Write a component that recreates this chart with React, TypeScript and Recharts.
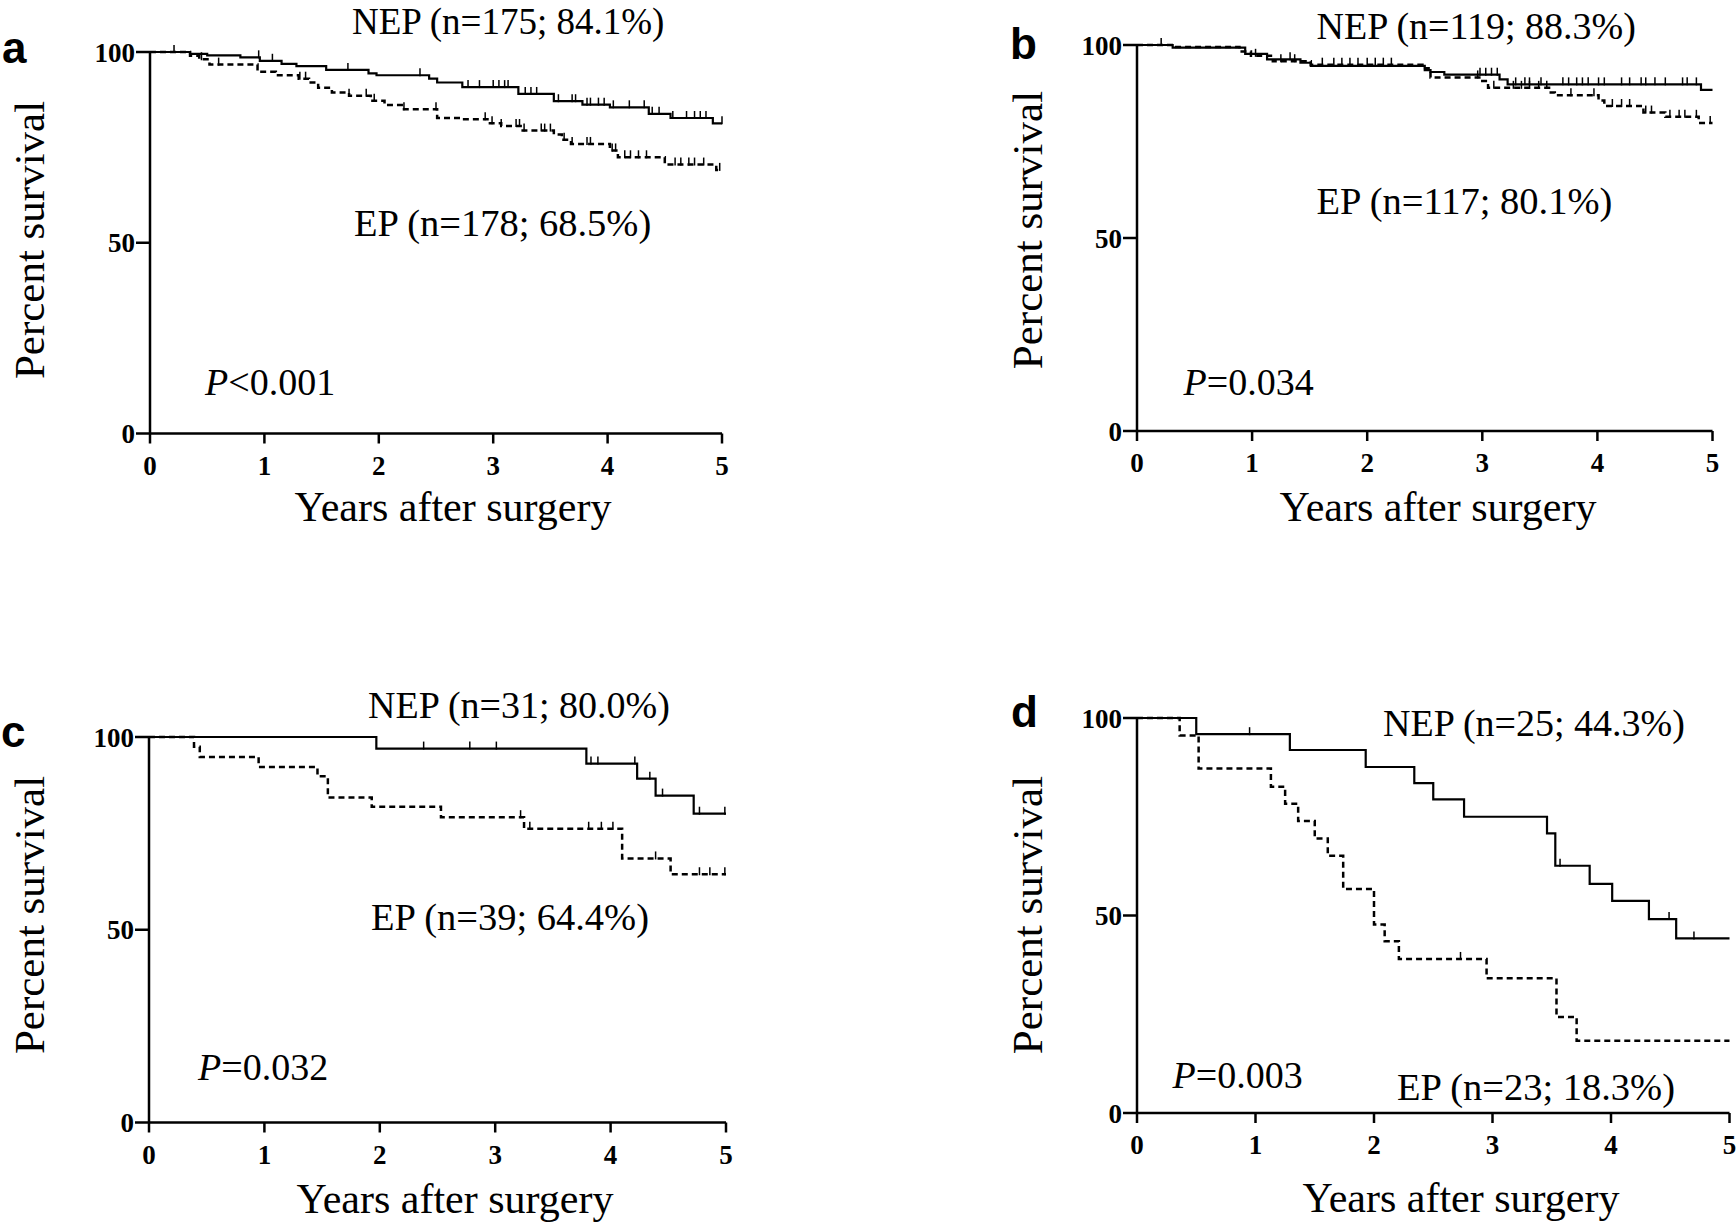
import { LineChart, Line, XAxis, YAxis } from 'recharts'

type Step = [number, number]

const years = [0, 1, 2, 3, 4, 5]
const pctTicks = [0, 50, 100]

// panel a: all patients
const aNep: Step[] = [[0, 100], [0.35, 99.5], [0.5, 99.1], [0.79, 98.6], [0.96, 97.7], [1.15, 96.9], [1.28, 96.3], [1.54, 95.3], [1.91, 94.4], [1.98, 93.9], [2.44, 93], [2.51, 92], [2.73, 90.8], [3.22, 89], [3.53, 87.1], [3.78, 86.2], [4.02, 85.5], [4.36, 83.8], [4.55, 82.7], [4.92, 81.3], [5, 81.3]]
const aEp: Step[] = [[0, 100], [0.35, 99], [0.43, 98.1], [0.52, 96.7], [0.94, 94.8], [1.1, 93.9], [1.3, 93], [1.39, 92], [1.47, 90.6], [1.59, 89.4], [1.74, 88.5], [1.93, 87.2], [2.05, 86.1], [2.22, 85], [2.51, 82.7], [2.73, 82.4], [2.95, 81.3], [3.07, 80.6], [3.24, 79.4], [3.53, 78.4], [3.6, 77], [3.68, 75.9], [4.02, 74.2], [4.09, 72.4], [4.5, 70.5], [4.95, 69.1], [5, 69.1]]
const aNepCens = [0.21, 0.95, 1.07, 1.73, 2.36, 2.78, 2.88, 3.0, 3.05, 3.1, 3.13, 3.28, 3.33, 3.38, 3.57, 3.69, 3.72, 3.82, 3.85, 3.92, 3.97, 4.05, 4.19, 4.32, 4.39, 4.45, 4.57, 4.69, 4.76, 4.81, 4.86, 5.0]
const aEpCens = [0.45, 0.6, 1.31, 1.36, 1.74, 1.89, 1.96, 2.22, 2.5, 2.93, 2.99, 3.07, 3.2, 3.23, 3.27, 3.42, 3.45, 3.5, 3.62, 3.69, 3.82, 3.85, 4.04, 4.07, 4.15, 4.2, 4.27, 4.34, 4.59, 4.64, 4.71, 4.76, 4.84, 4.98]

// panel b
const bNep: Step[] = [[0, 100], [0.31, 99.3], [0.94, 97.7], [1.13, 96.3], [1.42, 95.4], [1.51, 94.6], [2.5, 93.5], [2.55, 93], [2.67, 92.3], [3.15, 91.1], [3.22, 89.8], [4.9, 88.4], [5, 88.4]]
const bEp: Step[] = [[0, 100], [0.34, 99.5], [0.89, 98.3], [0.99, 97.2], [1.18, 95.8], [1.51, 94.9], [2.48, 94], [2.55, 91.6], [3.0, 90.7], [3.05, 88.9], [3.58, 87.7], [3.63, 87], [4.01, 85.6], [4.06, 84.2], [4.4, 82.5], [4.59, 81.4], [4.88, 79.8], [5, 79.8]]
const bNepCens = [0.21, 1.33, 2.98, 3.03, 3.08, 3.13, 3.29, 3.37, 3.41, 3.51, 3.7, 3.75, 3.82, 3.87, 3.92, 4.01, 4.06, 4.21, 4.28, 4.38, 4.42, 4.5, 4.59, 4.74, 4.78, 4.86]
const bEpCens = [1.03, 1.25, 1.37, 1.61, 1.71, 1.78, 1.85, 1.92, 2.0, 2.07, 2.14, 2.21, 2.96, 3.1, 3.27, 3.34, 3.41, 3.49, 3.56, 3.77, 3.97, 4.13, 4.21, 4.28, 4.42, 4.47, 4.63, 4.71, 4.76, 4.86, 4.98]

// panel c
const cNep: Step[] = [[0, 100], [1.97, 97], [3.79, 93.1], [4.23, 89.2], [4.39, 84.8], [4.72, 80.1], [5, 80.1]]
const cEp: Step[] = [[0, 100], [0.39, 97.5], [0.44, 94.8], [0.95, 92.2], [1.46, 89.8], [1.55, 84.3], [1.93, 81.9], [2.53, 79.2], [3.25, 76.2], [4.1, 68.5], [4.52, 64.4], [5, 64.4]]
const cNepCens = [2.38, 2.78, 3.01, 3.83, 3.89, 4.21, 4.34, 4.45, 4.77, 4.99]
const cEpCens = [3.22, 3.3, 3.81, 3.92, 4.02, 4.39, 4.77, 4.86, 4.99]

// panel d
const dNep: Step[] = [[0, 100], [0.5, 95.9], [1.29, 91.9], [1.93, 87.6], [2.34, 83.5], [2.5, 79.4], [2.76, 75], [3.46, 70.8], [3.53, 62.6], [3.82, 58], [4.01, 53.7], [4.32, 49.1], [4.55, 44.2], [5, 44.2]]
const dEp: Step[] = [[0, 100], [0.36, 95.6], [0.52, 87.2], [1.13, 82.6], [1.25, 78.3], [1.36, 73.9], [1.5, 69.5], [1.61, 65.1], [1.74, 56.7], [2.0, 47.7], [2.09, 43.5], [2.21, 39], [2.95, 34.1], [3.54, 24.3], [3.71, 18.3], [5, 18.3]]
const dNepCens = [0.95, 3.57, 4.49, 4.7]
const dEpCens = [2.73]

const nepLabels = ['NEP (n=175; 84.1%)', 'NEP (n=119; 88.3%)', 'NEP (n=31; 80.0%)', 'NEP (n=25; 44.3%)']
const epLabels = ['EP (n=178; 68.5%)', 'EP (n=117; 80.1%)', 'EP (n=39; 64.4%)', 'EP (n=23; 18.3%)']
const pLabels = [['<', '0.001'], ['=', '0.034'], ['=', '0.032'], ['=', '0.003']]
const letters = ['a', 'b', 'c', 'd']

function curve(steps: Step[], censored: number[]) {
  const pts = steps.map(([t, s]) => ({ t, s, c: false }))
  censored.forEach((t) => {
    let s = steps[0][1]
    for (const [st, sv] of steps) if (st <= t) s = sv
    pts.push({ t, s, c: true })
  })
  return pts.sort((p, q) => p.t - q.t)
}

const serif = "'Liberation Serif', 'Times New Roman', serif"

// plot area boxes: left, right, top, bottom (px)
const boxes = [
  [150, 722, 51.5, 433],
  [1136.5, 1712, 45, 431],
  [148.5, 725.5, 737, 1122.5],
  [1136.5, 1729, 718, 1113],
]

// text anchor points per panel
const textPos = [
  { letter: [2, 63], nep: [352, 34], ep: [354, 236], p: [205, 395], ylab: [44, 240], xlab: [453, 521] },
  { letter: [1010, 59], nep: [1316.5, 39], ep: [1316.5, 214], p: [1183.6, 395], ylab: [1042, 230], xlab: [1438, 521] },
  { letter: [1, 747], nep: [368, 718], ep: [371, 930], p: [198, 1080], ylab: [44, 915], xlab: [455, 1213] },
  { letter: [1011, 727], nep: [1383, 736], ep: [1397, 1100], p: [1172.5, 1087.5], ylab: [1042, 915], xlab: [1461, 1212] },
]

const panels = [
  { nep: curve(aNep, aNepCens), ep: curve(aEp, aEpCens) },
  { nep: curve(bNep, bNepCens), ep: curve(bEp, bEpCens) },
  { nep: curve(cNep, cNepCens), ep: curve(cEp, cEpCens) },
  { nep: curve(dNep, dNepCens), ep: curve(dEp, dEpCens) },
]

const censorDot = (props: any) => {
  const { cx, cy, payload, index } = props
  if (!payload || !payload.c) return <g key={index} />
  return <line key={index} x1={cx} x2={cx} y1={cy - 7} y2={cy + 1} stroke="#000" strokeWidth={1.5} />
}

const axisStyle = { stroke: '#000', strokeWidth: 2.5 }
const tickStyle = { fill: '#000', fontSize: 27, fontWeight: 'bold', fontFamily: serif }

function KmPanel({ box, nep, ep }: { box: number[]; nep: any[]; ep: any[] }) {
  const [l, r, top, bottom] = box
  const W = r - l + 120
  const H = bottom - top + 80
  return (
    <div style={{ position: 'absolute', left: l - 100, top: top - 20 }}>
      <LineChart width={W} height={H} margin={{ top: 20, right: 20, left: 0, bottom: 0 }}>
        <XAxis
          type="number"
          dataKey="t"
          domain={[0, 5]}
          ticks={years}
          interval={0}
          height={60}
          tickSize={10}
          tickMargin={12}
          axisLine={axisStyle}
          tickLine={axisStyle}
          tick={tickStyle}
          allowDuplicatedCategory={false}
        />
        <YAxis
          type="number"
          domain={[0, 100]}
          ticks={pctTicks}
          interval={0}
          width={100}
          tickSize={14}
          tickMargin={1}
          axisLine={axisStyle}
          tickLine={axisStyle}
          tick={tickStyle}
        />
        <Line
          data={nep}
          dataKey="s"
          type="stepAfter"
          stroke="#000"
          strokeWidth={2.2}
          dot={censorDot}
          activeDot={false}
          isAnimationActive={false}
        />
        <Line
          data={ep}
          dataKey="s"
          type="stepAfter"
          stroke="#000"
          strokeWidth={2.5}
          strokeDasharray="6 4"
          dot={censorDot}
          activeDot={false}
          isAnimationActive={false}
        />
      </LineChart>
    </div>
  )
}

export default function App() {
  return (
    <div style={{ position: 'absolute', left: 0, top: 0, width: 1736, height: 1228, background: '#fff' }}>
      {panels.map((p, i) => (
        <KmPanel key={i} box={boxes[i]} nep={p.nep} ep={p.ep} />
      ))}
      <svg width={1736} height={1228} style={{ position: 'absolute', left: 0, top: 0, pointerEvents: 'none' }}>
        {textPos.map((tp, i) => (
          <g key={i} fill="#000" fontFamily={serif}>
            <text x={tp.letter[0]} y={tp.letter[1]} fontSize={44} fontWeight="bold" fontFamily="'Liberation Sans', Arial, sans-serif">
              {letters[i]}
            </text>
            <text x={tp.nep[0]} y={tp.nep[1]} fontSize={i === 0 ? 37 : 38}>{nepLabels[i]}</text>
            <text x={tp.ep[0]} y={tp.ep[1]} fontSize={38.5}>{epLabels[i]}</text>
            <text x={tp.p[0]} y={tp.p[1]} fontSize={38}>
              <tspan fontStyle="italic">P</tspan>
              {pLabels[i][0] + pLabels[i][1]}
            </text>
            <text
              x={tp.ylab[0]}
              y={tp.ylab[1]}
              fontSize={43}
              textAnchor="middle"
              transform={`rotate(-90 ${tp.ylab[0]} ${tp.ylab[1]})`}
            >
              Percent survival
            </text>
            <text x={tp.xlab[0]} y={tp.xlab[1]} fontSize={42} textAnchor="middle">
              Years after surgery
            </text>
          </g>
        ))}
      </svg>
    </div>
  )
}
